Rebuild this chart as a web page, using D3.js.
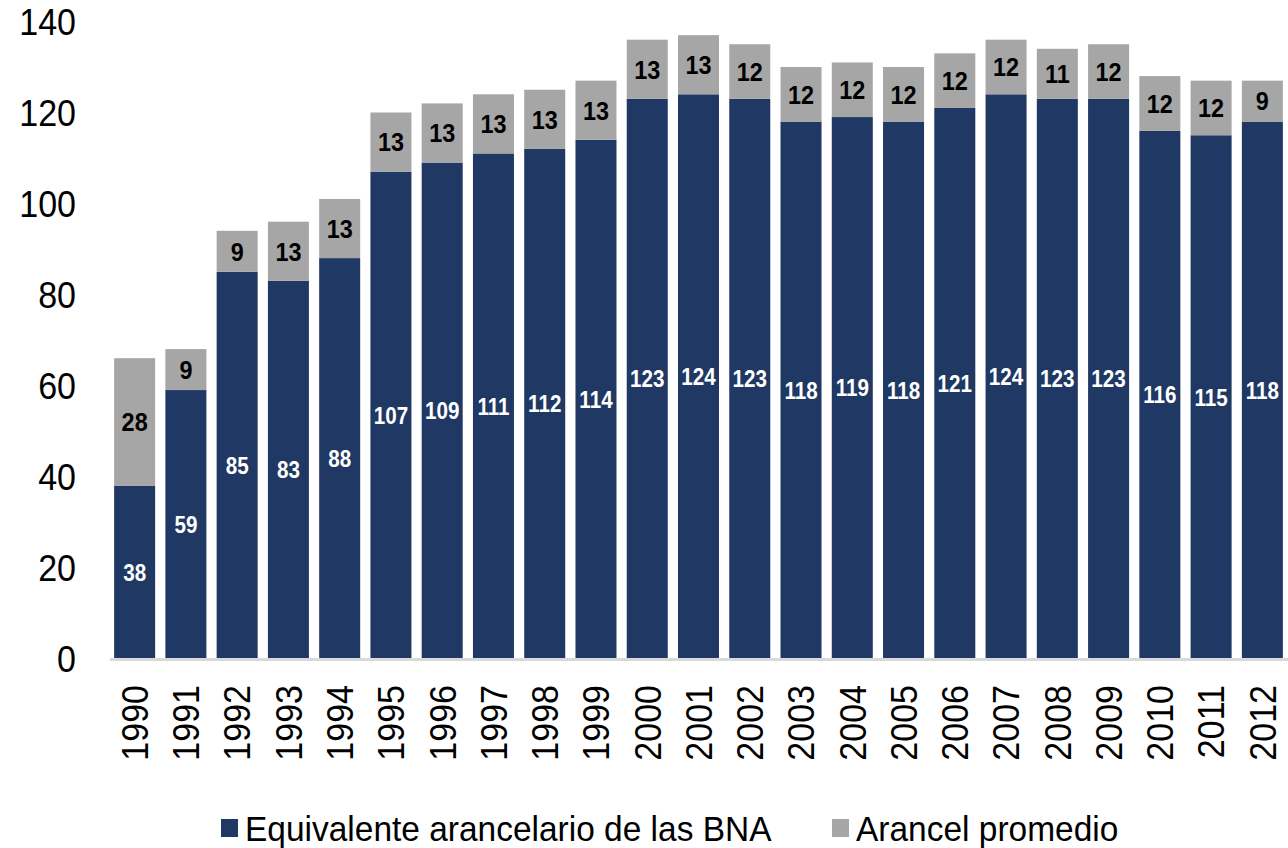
<!DOCTYPE html>
<html>
<head>
<meta charset="utf-8">
<script src="https://cdn.jsdelivr.net/npm/d3@7/dist/d3.min.js"></script>
<style>
  html, body { margin: 0; padding: 0; background: #fff; }
  svg { display: block; font-family: "Liberation Sans", Arial, sans-serif; }
</style>
</head>
<body>
<div id="chart"></div>
<script>
// years on the x axis
const years = ["1990","1991","1992","1993","1994","1995","1996","1997","1998","1999","2000","2001",
               "2002","2003","2004","2005","2006","2007","2008","2009","2010","2011","2012"];
// Equivalente arancelario de las BNA
const bnaValues = [38,59,85,83,88,107,109,111,112,114,123,124,123,118,119,118,121,124,123,123,116,115,118];
// Arancel promedio
const tariffValues = [28,9,9,13,13,13,13,13,13,13,13,13,12,12,12,12,12,12,11,12,12,12,9];
const yTicks = [0,20,40,60,80,100,120,140];
const seriesNames = ["Equivalente arancelario de las BNA", "Arancel promedio"];
const colors = ["#203864", "#a6a6a6"];

const width = 1288, height = 848;
const svg = d3.select("#chart").append("svg")
    .attr("width", width)
    .attr("height", height);

const x = d3.scaleBand().domain(years).range([109, 1288]).paddingInner(0.2).paddingOuter(0.1);
const y = d3.scaleLinear().domain([0, 140]).range([658.5, 21.5]);

// the original font is a bit narrower than Arial, squeeze it horizontally
const squeeze = 0.92;

// y tick labels (no axis line)
svg.append("g")
    .selectAll("text")
    .data(yTicks)
    .enter().append("text")
    .attr("transform", d => `translate(76,${y(d)}) scale(${squeeze},1)`)
    .attr("dy", "0.36em")
    .attr("text-anchor", "end")
    .style("font-size", "37px")
    .attr("fill", "#000")
    .text(d => d);

const rows = years.map((yr, i) => ({ year: yr, bna: bnaValues[i], tariff: tariffValues[i] }));

// navy segments
svg.append("g")
    .selectAll("rect")
    .data(rows)
    .enter().append("rect")
    .attr("x", d => x(d.year))
    .attr("width", x.bandwidth())
    .attr("y", d => y(d.bna))
    .attr("height", d => y(0) - y(d.bna))
    .attr("fill", colors[0]);

// grey segments stacked on top
svg.append("g")
    .selectAll("rect")
    .data(rows)
    .enter().append("rect")
    .attr("x", d => x(d.year))
    .attr("width", x.bandwidth())
    .attr("y", d => y(d.bna + d.tariff))
    .attr("height", d => y(d.bna) - y(d.bna + d.tariff))
    .attr("fill", colors[1]);

// baseline
svg.append("line")
    .attr("x1", 110).attr("x2", width)
    .attr("y1", y(0) + 1).attr("y2", y(0) + 1)
    .attr("stroke", "#d9d9d9")
    .attr("stroke-width", 3);

// value labels
svg.append("g")
    .selectAll("text")
    .data(rows)
    .enter().append("text")
    .attr("transform", d => `translate(${x(d.year) + x.bandwidth() / 2},${(y(0) + y(d.bna)) / 2}) scale(0.86,1)`)
    .attr("dy", "0.36em")
    .attr("text-anchor", "middle")
    .style("font-size", "24px")
    .style("font-weight", "bold")
    .attr("fill", "#fff")
    .text(d => d.bna);

svg.append("g")
    .selectAll("text")
    .data(rows)
    .enter().append("text")
    .attr("transform", d => `translate(${x(d.year) + x.bandwidth() / 2},${(y(d.bna) + y(d.bna + d.tariff)) / 2}) scale(0.9,1)`)
    .attr("dy", "0.36em")
    .attr("text-anchor", "middle")
    .style("font-size", "26px")
    .style("font-weight", "bold")
    .attr("fill", "#000")
    .text(d => d.tariff);

// year labels, rotated
svg.append("g")
    .selectAll("text")
    .data(years)
    .enter().append("text")
    .attr("transform", d => `translate(${x(d) + x.bandwidth() / 2},685) rotate(-90) scale(${squeeze},1)`)
    .attr("dy", "0.36em")
    .attr("text-anchor", "end")
    .style("font-size", "37px")
    .attr("fill", "#000")
    .text(d => d);

// legend
const legendX = [221, 832];
const legend = svg.append("g")
    .selectAll("g")
    .data(seriesNames)
    .enter().append("g")
    .attr("transform", (d, i) => `translate(${legendX[i]},828)`);

legend.append("rect")
    .attr("x", 0).attr("y", -9)
    .attr("width", 17).attr("height", 18)
    .attr("fill", (d, i) => colors[i]);

legend.append("text")
    .attr("transform", `translate(24,0) scale(0.93,1)`)
    .attr("dy", "0.36em")
    .style("font-size", "36px")
    .attr("fill", "#000")
    .text(d => d);
</script>
</body>
</html>
